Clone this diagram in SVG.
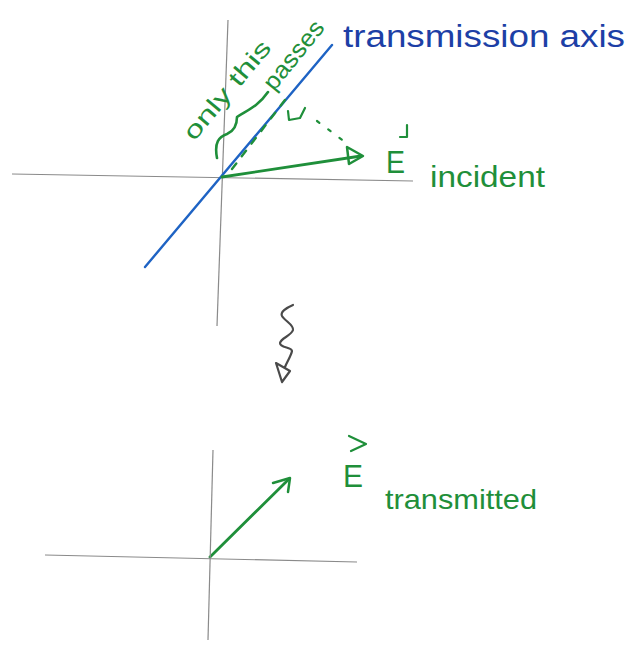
<svg xmlns="http://www.w3.org/2000/svg" width="644" height="647" viewBox="0 0 644 647">
<style>
.axis{stroke:#8a8a8a;stroke-width:1.2;fill:none}
.g{stroke:#1f8f3a;fill:none;stroke-linecap:round;stroke-linejoin:round}
.gt{fill:#1f8f3a;font-family:"Liberation Sans",Arial,sans-serif}
.bt{fill:#1d3fa6;font-family:"Liberation Sans",Arial,sans-serif}
.sq{stroke:#4a4a4a;stroke-width:2.2;fill:none;stroke-linecap:round;stroke-linejoin:round}
</style>
<rect width="644" height="647" fill="#ffffff"/>
<g id="top-axes">
<line class="axis" x1="228" y1="20" x2="217" y2="326"/>
<line class="axis" x1="12" y1="174" x2="413" y2="181"/>
</g>
<g id="transmission-axis">
<line x1="145" y1="267" x2="332" y2="45" stroke="#1e63c4" stroke-width="2.4" stroke-linecap="round"/>
<text class="bt" x="343" y="47" font-size="31" textLength="282" lengthAdjust="spacingAndGlyphs">transmission axis</text>
</g>
<g id="annotation">
<path class="g" stroke-width="2.6" d="M217,158 C214,142 219,137 227,134 C234,131 237,124 237,117 C245,111 257,108 268,92"/>
<text class="gt" font-size="24" transform="translate(194,142) rotate(-50)" textLength="122" lengthAdjust="spacingAndGlyphs">only this</text>
<text class="gt" font-size="24" transform="translate(274,92) rotate(-51)" textLength="82" lengthAdjust="spacingAndGlyphs">passes</text>
<path class="g" stroke-width="2.2" d="M288,111 L289,120 L300,118 L305,108"/>
</g>
<g id="connectors">
<line class="g" stroke-width="2.4" stroke-dasharray="7,9" x1="232" y1="169" x2="288" y2="96"/>
<line class="g" stroke-width="2.2" stroke-dasharray="3,11" x1="317" y1="121" x2="349" y2="145"/>
<line class="g" stroke-width="2.8" x1="222" y1="177" x2="361" y2="156"/>
<path class="g" stroke-width="2.5" d="M347,147 L363,156 L349,164 Z"/>
<path class="sq" d="M293,305 C286,308 280,312 282,316 C285,321 294,325 293,330 C291,336 281,338 280,343 C280,348 292,347 292,351 C291,356 287,362 285,367"/>
<path class="sq" d="M276,363 L290,371 L282,382 Z"/>
<line class="g" stroke-width="2.8" x1="210" y1="557" x2="289" y2="479"/>
<path class="g" stroke-width="2.5" d="M273,483 L290,478 L288,492"/>
</g>
<g id="E-incident">
<text class="gt" x="386" y="173" font-size="32" textLength="19" lengthAdjust="spacingAndGlyphs">E</text>
<path class="g" stroke-width="2.2" d="M407,125 L407,137 L400,137"/>
<text class="gt" x="430" y="187" font-size="29" textLength="115" lengthAdjust="spacingAndGlyphs">incident</text>
</g>
<g id="bottom-axes">
<line class="axis" x1="213" y1="450" x2="208" y2="640"/>
<line class="axis" x1="45" y1="555" x2="357" y2="562"/>
</g>
<g id="E-transmitted">
<text class="gt" x="343" y="487" font-size="32" textLength="20" lengthAdjust="spacingAndGlyphs">E</text>
<path class="g" stroke-width="2.2" d="M349,436 L366,444 L351,451"/>
<text class="gt" x="385" y="509" font-size="28" textLength="152" lengthAdjust="spacingAndGlyphs">transmitted</text>
</g>
</svg>
